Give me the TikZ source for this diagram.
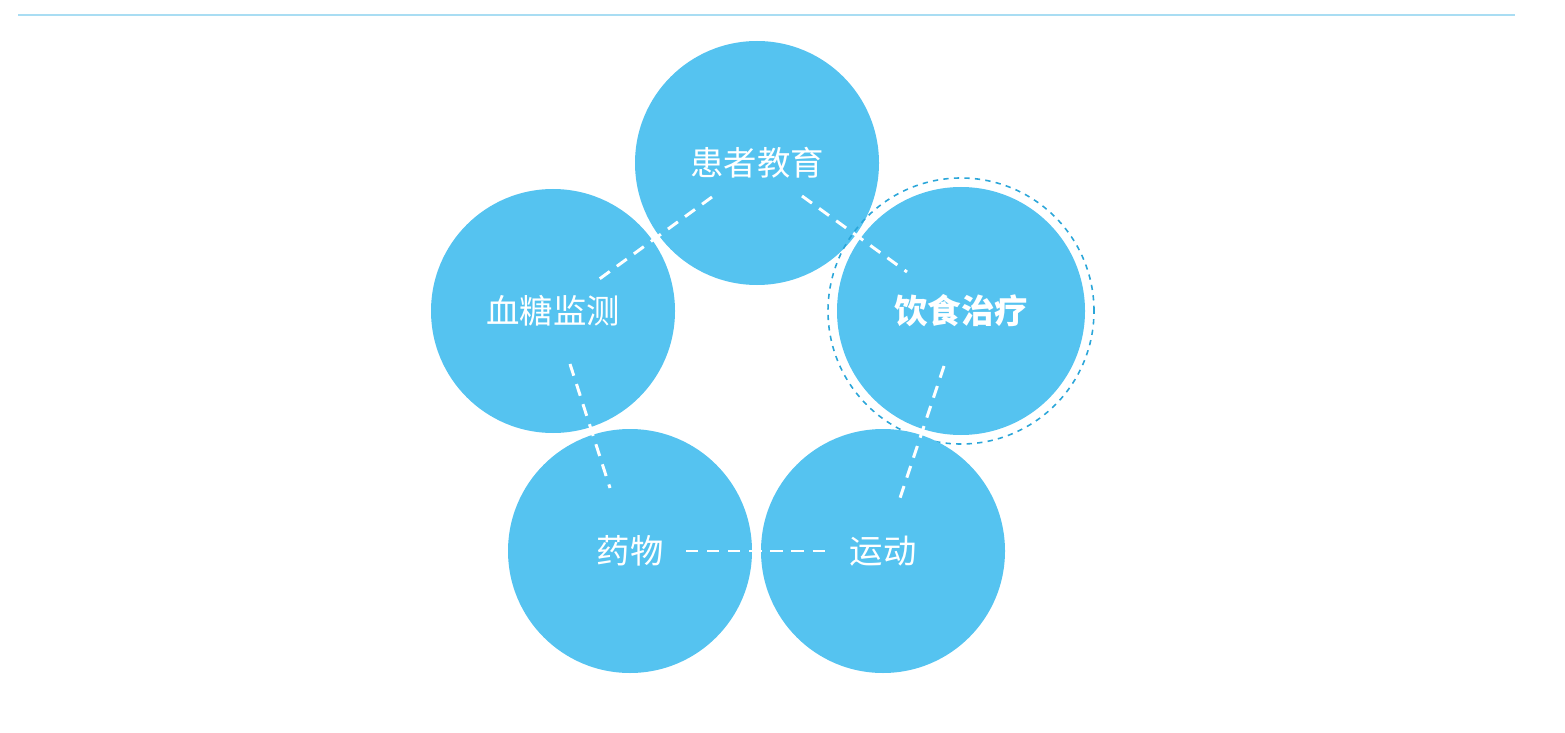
\documentclass[tikz,border=0pt]{standalone}
\usepackage{fontspec}
\newfontfamily\cjk{Noto Sans CJK SC}
\definecolor{cfill}{HTML}{55C3F0}
\definecolor{cring}{HTML}{2BA6D9}
\definecolor{cline}{HTML}{A9DDF3}
\begin{document}
\begin{tikzpicture}[x=0.02cm,y=-0.02cm,
  bubble/.style={circle,fill=cfill,minimum size=244*0.02cm,inner sep=0pt,text=white,font=\cjk\fontsize{19}{22}\selectfont},
  link/.style={white,line width=1.7pt,dash pattern=on 7pt off 5pt}]
\useasboundingbox (0,0) rectangle (1565,733);
\draw[cline,line width=0.8pt] (18,15) -- (1515,15);
\node[bubble] (edu) at (757,163) {患者教育};
\node[bubble] (bg) at (553,311) {血糖监测};
\node[circle,draw=cring,dashed,line width=0.9pt,minimum size=266*0.02cm,inner sep=0pt] (ring) at (961,311) {};
\node[bubble,minimum size=248*0.02cm,font=\cjk\bfseries\fontsize{19}{22}\selectfont] (diet) at (961,311) {饮食治疗};
\node[bubble] (med) at (630,551) {药物};
\node[bubble] (ex) at (883,551) {运动};
\coordinate (a1) at (712,197); \coordinate (a2) at (598,280);
\coordinate (b1) at (802,196); \coordinate (b2) at (907,272);
\coordinate (c1) at (570,364); \coordinate (c2) at (610,488);
\coordinate (d1) at (944,366); \coordinate (d2) at (900,498);
\coordinate (e1) at (686,551); \coordinate (e2) at (828,551);
\draw[link] (a1) -- (a2);
\draw[link] (b1) -- (b2);
\draw[link] (c1) -- (c2);
\draw[link] (d1) -- (d2);
\draw[link] (e1) -- (e2);
\end{tikzpicture}
\end{document}
